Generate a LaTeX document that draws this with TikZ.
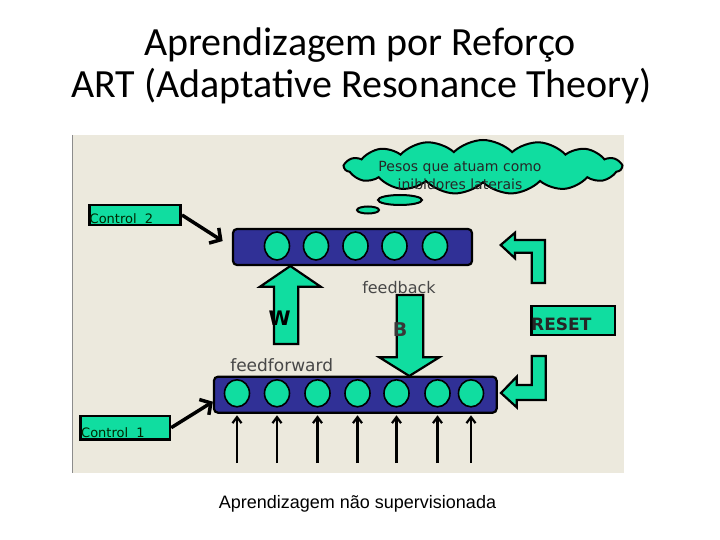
\documentclass[tikz,border=0pt]{standalone}
\usepackage{fontspec}
\setmainfont{Carlito}
\newfontfamily\diafont{DejaVu Sans}
\newfontfamily\capfont{Liberation Sans}
\usetikzlibrary{shapes.geometric,shapes.symbols,arrows.meta}

\definecolor{artteal}{RGB}{16,221,160}
\definecolor{artnavy}{RGB}{48,48,150}
\definecolor{panelbg}{RGB}{236,233,221}

\tikzset{
  unit/.style={ellipse, draw=black, line width=1.6pt, fill=artteal, minimum width=25pt, minimum height=28pt, inner sep=0pt},
  layer/.style={rectangle, rounded corners=4pt, draw=black, line width=2.2pt, fill=artnavy, inner sep=0pt},
  ctrlbox/.style={rectangle, draw=black, line width=2.5pt, fill=artteal, inner sep=0pt},
  ctrltext/.style={anchor=base west, inner sep=0pt, text=black!85!green, font=\diafont\fontsize{13}{15}\selectfont},
  blockarrow/.style={draw=black, line width=2.2pt, fill=artteal, line join=miter},
  ctrlarrow/.style={line width=3.5pt, -{Straight Barb[length=8pt,width=18pt]}},
  inarrow/.style={line width=2.2pt, -{Straight Barb[length=6pt,width=9pt]}, shorten >=1.5pt},
  flowtext/.style={anchor=base, inner sep=0pt, text=black!72, font=\diafont\fontsize{16}{18}\selectfont},
}

\begin{document}
\begin{tikzpicture}[x=1pt, y=-1pt]
  \useasboundingbox (0,0) rectangle (720,540);
  \fill[white] (0,0) rectangle (720,540);

  % title
  \node[anchor=base, inner sep=0pt, font=\fontsize{40}{46}\selectfont] (titleA) at (360,56) {Aprendizagem por Reforço};
  \node[anchor=base, inner sep=0pt, font=\fontsize{40}{46}\selectfont] (titleB) at (361.7,97.3) {ART (Adaptative Resonance Theory)};

  % panel
  \fill[panelbg] (72.7,135) rectangle (624,473);
  \draw[black!45, line width=1pt] (72.7,135) -- (72.7,473);

  % cloud
  \node[cloud, cloud puffs=15, cloud puff arc=90, aspect=5.2, draw=black, line width=2pt, fill=artteal, minimum width=277pt, minimum height=54pt, inner sep=0pt] (cloud) at (483,167) {};
  \node[ellipse, draw=black, line width=2pt, fill=artteal, minimum width=44pt, minimum height=10pt, inner sep=0pt] (bubbleA) at (400,200) {};
  \node[ellipse, draw=black, line width=2pt, fill=artteal, minimum width=22pt, minimum height=7pt, inner sep=0pt] (bubbleB) at (368,210) {};
  \node[anchor=base, inner sep=0pt, text=black!85, font=\diafont\fontsize{14}{16}\selectfont] (cloudA) at (460,171.7) {Pesos que atuam como};
  \node[anchor=base, inner sep=0pt, text=black!85, font=\diafont\fontsize{14}{16}\selectfont] (cloudB) at (460,189.3) {inibidores laterais};

  % layers
  \node[layer, minimum width=239pt, minimum height=36pt] (topbar) at (352.5,247) {};
  \node[layer, minimum width=282.7pt, minimum height=36pt] (botbar) at (355.3,394.7) {};

  \node[unit] (f2a) at (277,246) {};    \node[unit] (f2b) at (316,246) {};
  \node[unit] (f2c) at (355.5,246) {};  \node[unit] (f2d) at (394.5,246) {};
  \node[unit] (f2e) at (435,246) {};

  \node[unit, minimum height=27pt] (f1a) at (237,393.3) {};    \node[unit, minimum height=27pt] (f1b) at (277,393.3) {};
  \node[unit, minimum height=27pt] (f1c) at (317.5,393.3) {};  \node[unit, minimum height=27pt] (f1d) at (357.5,393.3) {};
  \node[unit, minimum height=27pt] (f1e) at (396.5,393.3) {};  \node[unit, minimum height=27pt] (f1f) at (437.5,393.3) {};
  \node[unit, minimum height=27pt] (f1g) at (471,393.3) {};

  % control boxes
  \node[ctrlbox, minimum width=91.4pt, minimum height=20pt] (ctrlB) at (135,215) {};
  \node[ctrltext] (ctrlBtext) at (89.5,223.5) {Control~~2};
  \node[ctrlbox, minimum width=89.3pt, minimum height=23.3pt] (ctrlA) at (125.3,427.7) {};
  \node[ctrltext] (ctrlAtext) at (81,437) {Control~~1};

  \draw[ctrlarrow, shorten >=11pt] (ctrlB.east) -- (topbar.west);
  \draw[ctrlarrow] (ctrlA.east) -- ([yshift=-7pt]botbar.west);

  % W and B
  \draw[blockarrow] (274,344) -- (274,286.7) -- (260,286.7) -- (290.3,266) -- (320.7,286.7) -- (298.3,286.7) -- (298.3,344) -- cycle;
  \draw[blockarrow] (396.7,295) -- (396.7,357.3) -- (379.3,357.3) -- (409.3,376) -- (439.3,357.3) -- (423.3,357.3) -- (423.3,295) -- cycle;

  \node[anchor=base, inner sep=0pt, font=\diafont\bfseries\fontsize{20}{22}\selectfont] (wlabel) at (279.6,325) {W};
  \node[anchor=base, inner sep=0pt, text=black!78, font=\diafont\bfseries\fontsize{19}{21}\selectfont] (blabel) at (400,336.7) {B};
  \node[flowtext] (feedback) at (399,293.3) {feedback};
  \node[flowtext, font=\diafont\fontsize{17}{19}\selectfont] (feedforward) at (281.7,371.7) {feedforward};

  % reset
  \draw[blockarrow] (545,283) -- (545,240) -- (515,240) -- (515,232.7) -- (500.7,245) -- (515,258.3) -- (515,252.7) -- (531.7,252.7) -- (531.7,283) -- cycle;
  \draw[blockarrow] (531.7,356) -- (545.7,356) -- (545.7,400) -- (516.7,400) -- (516.7,407.3) -- (501,393) -- (516.7,376.7) -- (516.7,385) -- (531.7,385) -- cycle;
  \node[ctrlbox, minimum width=83.3pt, minimum height=29pt] (reset) at (573.3,320.5) {};
  \node[anchor=base west, inner sep=0pt, text=black!85, font=\diafont\bfseries\fontsize{17}{19}\selectfont] (resettext) at (531,330.7) {RESET};

  % inputs
  \coordinate (inbase) at (0,463);
  \draw[inarrow] (f1a |- inbase) -- (f1a |- botbar.south);  \draw[inarrow] (f1b |- inbase) -- (f1b |- botbar.south);
  \draw[inarrow] (f1c |- inbase) -- (f1c |- botbar.south);  \draw[inarrow] (f1d |- inbase) -- (f1d |- botbar.south);
  \draw[inarrow] (f1e |- inbase) -- (f1e |- botbar.south);  \draw[inarrow] (f1f |- inbase) -- (f1f |- botbar.south);
  \draw[inarrow] (f1g |- inbase) -- (f1g |- botbar.south);

  % caption
  \node[anchor=base, inner sep=0pt, font=\capfont\fontsize{18}{20}\selectfont] (caption) at (357.5,508.3) {Aprendizagem não supervisionada};
\end{tikzpicture}
\end{document}
